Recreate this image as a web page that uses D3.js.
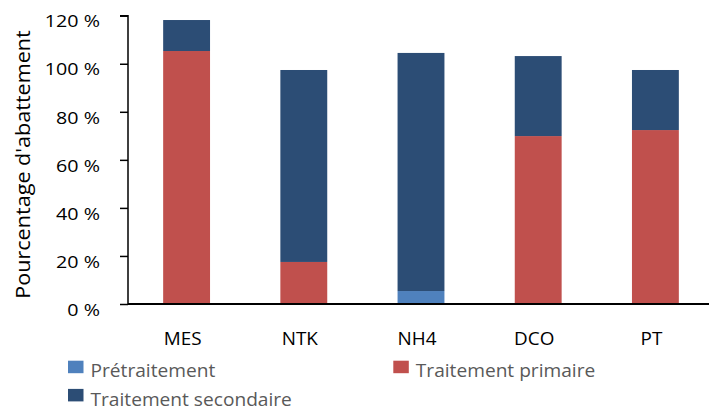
<!DOCTYPE html>
<html><head><meta charset="utf-8">
<script src="https://cdn.jsdelivr.net/npm/d3@7"></script>
<style>html,body{margin:0;padding:0;background:#fff;}svg{display:block;}</style>
</head><body>
<svg id="c" width="709" height="407"></svg>
<script>
const categories = ["MES", "NTK", "NH4", "DCO", "PT"];
const seriesNames = ["Prétraitement", "Traitement primaire", "Traitement secondaire"];
const pretraitement = [0, 0, 5.4, 0, 0];
const primaire = [105.3, 17.5, 0, 69.9, 72.4];
const secondaire = [12.9, 79.9, 99.1, 33.3, 25.0];
const yTicks = [0, 20, 40, 60, 80, 100, 120];
const colors = ["#4F81BD", "#C0504D", "#2C4D75"];

const font = "'Open Sans', sans-serif";
const svg = d3.select("#c");
const x = d3.scaleBand().domain(categories).range([128, 714]).paddingInner(0.6).paddingOuter(0.3);
const y = d3.scaleLinear().domain([0, 120]).range([304, 15.7]);

const rows = categories.map((c, i) => ({cat: c, "Prétraitement": pretraitement[i], "Traitement primaire": primaire[i], "Traitement secondaire": secondaire[i]}));
const stack = d3.stack().keys(seriesNames)(rows);

svg.append("g").selectAll("g").data(stack).join("g")
  .attr("fill", (d, i) => colors[i])
  .selectAll("rect").data(d => d).join("rect")
  .attr("x", d => x(d.data.cat))
  .attr("width", x.bandwidth())
  .attr("y", d => y(d[1]))
  .attr("height", d => y(d[0]) - y(d[1]));

// Y axis
const yAxis = d3.axisLeft(y).tickValues(yTicks).tickSize(8).tickFormat(d => d + " %");
const gy = svg.append("g").attr("transform", "translate(128,0)").call(yAxis);
gy.select(".domain").attr("stroke", "#000").attr("stroke-width", 1.5).attr("d", "M-8," + y(120) + "H0V" + y(0));
gy.selectAll(".tick line").attr("stroke", "#000").attr("stroke-width", 1.5);
gy.selectAll("text").attr("font-family", font).attr("font-size", 16.4).attr("fill", "#000")
  .attr("x", 0).attr("dy", null).attr("y", 0)
  .attr("transform", "translate(-28,11.2) scale(1.2,1)");

// X axis
const xAxis = d3.axisBottom(x).tickSize(0);
const gx = svg.append("g").attr("transform", "translate(0,304)").call(xAxis);
gx.select(".domain").attr("stroke", "#000").attr("stroke-width", 2).attr("d", "M128,0H709");
gx.selectAll("text").attr("font-family", font).attr("font-size", 18).attr("fill", "#000")
  .attr("y", 0).attr("dy", null).attr("transform", "translate(-4,40.5) scale(1.05,1)");

// Y title
svg.append("text").attr("transform", "translate(30,164.5) rotate(-90) scale(1.08,1)")
  .attr("text-anchor", "middle").attr("font-family", font).attr("font-size", 20).attr("fill", "#000")
  .text("Pourcentage d'abattement");

// Legend
const legendPos = [[68, 377.3], [393.3, 377.3], [68, 405.5]];
const lg = svg.append("g").selectAll("g").data(seriesNames).join("g")
  .attr("transform", (d, i) => `translate(${legendPos[i][0]},${legendPos[i][1]})`);
lg.append("rect").attr("x", 0).attr("y", -16.6).attr("width", 15.5).attr("height", 12.5).attr("fill", (d, i) => colors[i]);
lg.append("text").attr("transform", "translate(22.5,0) scale(1.035,1)").attr("font-family", font).attr("font-size", 18.5).attr("fill", "#595959").text(d => d);
</script>
</body></html>
